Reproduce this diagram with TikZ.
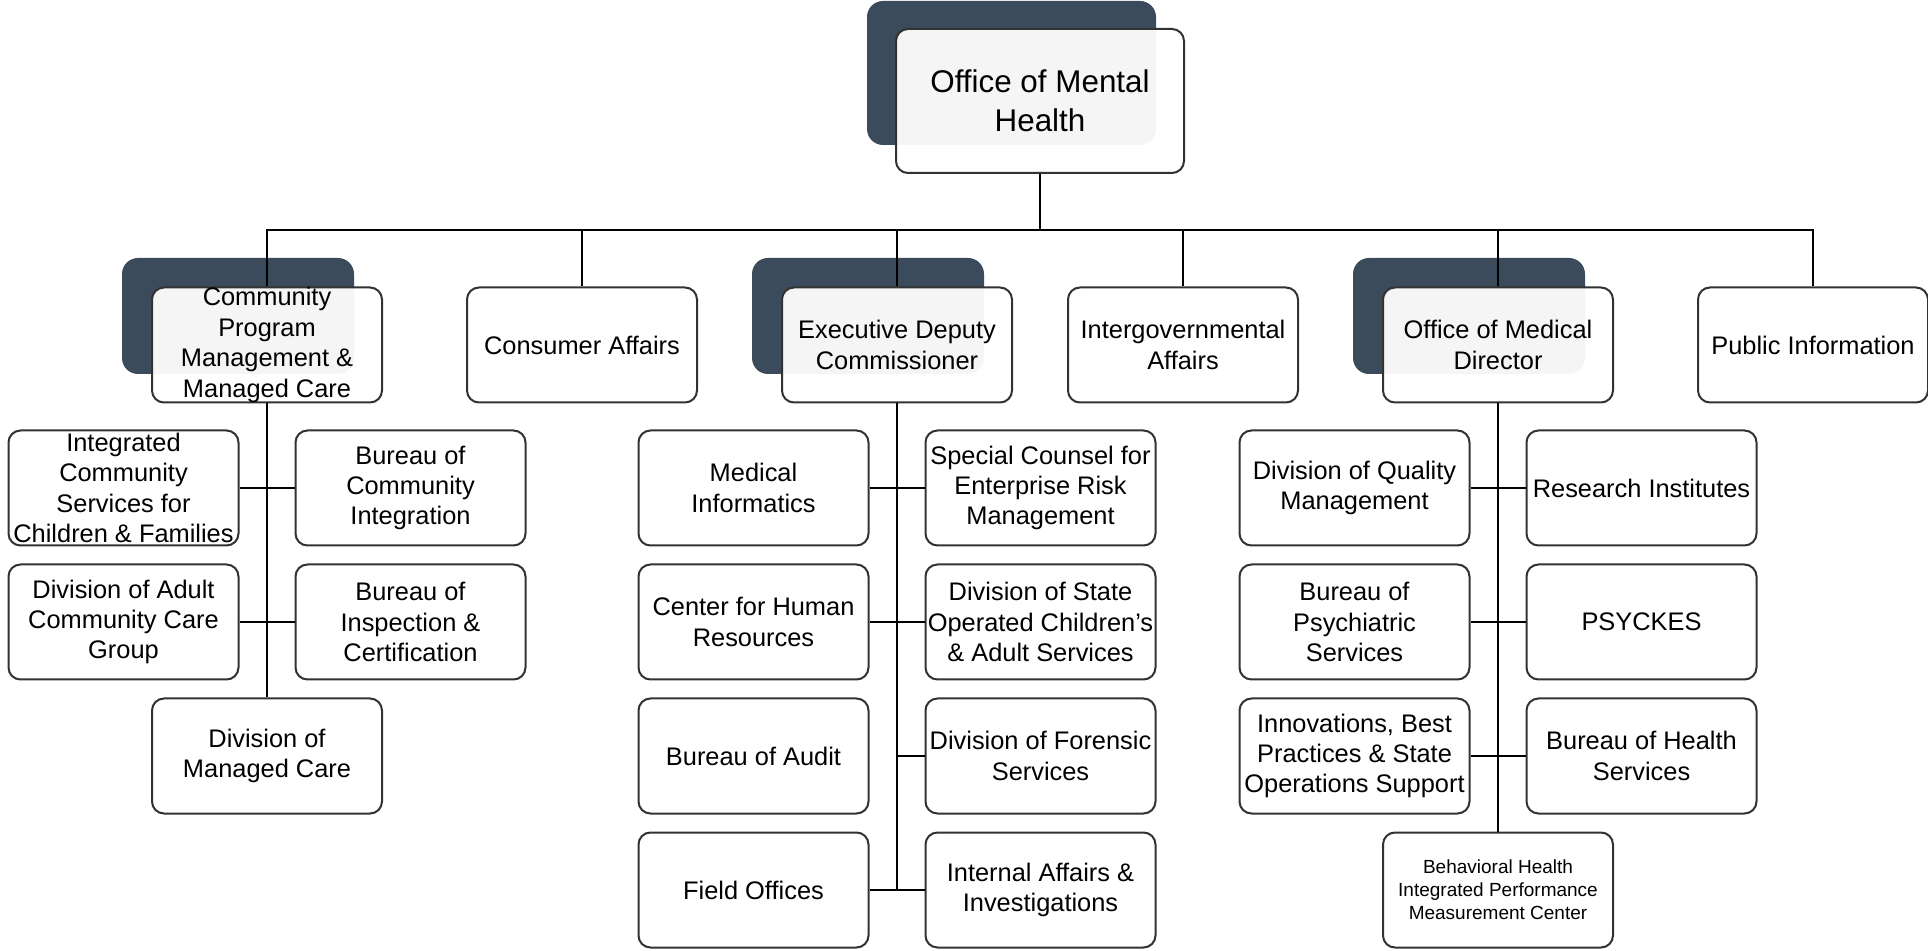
\documentclass[tikz,border=0pt]{standalone}
\usepackage{fontspec}
\setmainfont{Liberation Sans}
\usepackage{tikz}
\usetikzlibrary{positioning, calc}
\definecolor{shadeblue}{RGB}{60,75,92}
\definecolor{boxline}{RGB}{50,50,50}
\newcommand{\unitfont}{\fontsize{12.7}{15.2}\selectfont}
\newcommand{\headfont}{\fontsize{15.7}{19.7}\selectfont}
\newcommand{\tinyunitfont}{\fontsize{9.5}{11.4}\selectfont}
\tikzset{
    unitbox/.style = {draw=boxline, line width=1pt, rounded corners=6pt, fill=white,
        minimum width=115pt, minimum height=57.5pt, inner sep=0pt, align=center, font=\unitfont},
    head_box/.style = {unitbox, fill opacity=0.95, text opacity=1},
    shade_box/.style = {fill=shadeblue, rounded corners=8pt, inner sep=0pt,
        minimum width=116pt, minimum height=58pt},
    link/.style = {draw=black, line width=1pt},
}

\begin{document}
\begin{tikzpicture}[x=0.5pt, y=-0.5pt]
        \useasboundingbox (0,0) rectangle (1928,951);
        \coordinate (bus) at (0,230);
        % head office
        \node[shade_box, minimum width=144.5pt, minimum height=72pt] (omh_shade) at (1011.5,73) {};
        \node[head_box, minimum width=144pt, minimum height=72pt, font=\headfont] (omh) at (1040,101) {Office of Mental\\Health};
        % first level
        \node[shade_box] (cpm_shade) at (238,316) {};
        \node[head_box] (cpm) at (267,345) {Community\\Program\\Management \&\\Managed Care};
        \node[unitbox] (ca) at (582,345) {Consumer Affairs};
        \node[shade_box] (edc_shade) at (868,316) {};
        \node[head_box] (edc) at (897,345) {Executive Deputy\\Commissioner};
        \node[unitbox] (iga) at (1183,345) {Intergovernmental\\Affairs};
        \node[shade_box] (omd_shade) at (1469,316) {};
        \node[head_box] (omd) at (1498,345) {Office of Medical\\Director};
        \node[unitbox] (pi) at (1813,345) {Public Information};
        % community programs
        \node[unitbox] (ics) at (123.5,488) {Integrated\\Community\\Services for\\Children \& Families};
        \node[unitbox, right=27.5pt of ics] (bci) {Bureau of\\Community\\Integration};
        \node[unitbox] (dacc) at (123.5,622) {Division of Adult\\Community Care\\Group};
        \node[unitbox, right=27.5pt of dacc] (bic) {Bureau of\\Inspection \&\\Certification};
        \node[unitbox] (dmc) at (267,756) {Division of\\Managed Care};
        % executive deputy
        \node[unitbox] (mi) at (753.5,488) {Medical\\Informatics};
        \node[unitbox, right=27.5pt of mi] (scerm) {Special Counsel for\\Enterprise Risk\\Management};
        \node[unitbox] (chr) at (753.5,622) {Center for Human\\Resources};
        \node[unitbox, right=27.5pt of chr] (dsocas) {Division of State\\Operated Children's\\\& Adult Services};
        \node[unitbox] (ba) at (753.5,756) {Bureau of Audit};
        \node[unitbox, right=27.5pt of ba] (dfs) {Division of Forensic\\Services};
        \node[unitbox] (fo) at (753.5,890) {Field Offices};
        \node[unitbox, right=27.5pt of fo] (iai) {Internal Affairs \&\\Investigations};
        % medical director
        \node[unitbox] (dqm) at (1354.5,488) {Division of Quality\\Management};
        \node[unitbox, right=27.5pt of dqm] (ri) {Research Institutes};
        \node[unitbox] (bps) at (1354.5,622) {Bureau of\\Psychiatric\\Services};
        \node[unitbox, right=27.5pt of bps] (psy) {PSYCKES};
        \node[unitbox] (ibp) at (1354.5,756) {Innovations, Best\\Practices \& State\\Operations Support};
        \node[unitbox, right=27.5pt of ibp] (bhs) {Bureau of Health\\Services};
        \node[unitbox, font=\tinyunitfont] (bhipmc) at (1498,890) {Behavioral Health\\Integrated Performance\\Measurement Center};
        % links
        \draw[link] (omh.south) -- (omh.south |- bus);
        \draw[link] (cpm.north) -- (cpm.north |- bus) -- (pi.north |- bus) -- (pi.north);
        \foreach \n in {ca, edc, iga, omd}
            \draw[link] (\n.north) -- (\n.north |- bus);
        \draw[link] (cpm.south) -- (dmc.north);
        \foreach \l/\r in {ics/bci, dacc/bic}
            \draw[link] (\l.east) -- (\r.west);
        \draw[link] (edc.south) -- (edc.south |- fo.east);
        \foreach \l/\r in {mi/scerm, chr/dsocas, fo/iai}
            \draw[link] (\l.east) -- (\r.west);
        \draw[link] (edc.south |- dfs.west) -- (dfs.west);
        \draw[link] (omd.south) -- (bhipmc.north);
        \foreach \l/\r in {dqm/ri, bps/psy, ibp/bhs}
            \draw[link] (\l.east) -- (\r.west);
\end{tikzpicture}
\end{document}
